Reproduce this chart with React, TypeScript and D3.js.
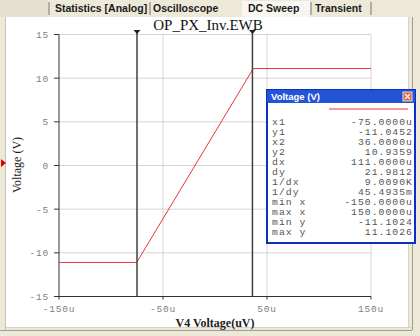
import React from "react";
import * as d3 from "d3";

const tabs = ["Statistics [Analog]", "Oscilloscope", "DC Sweep", "Transient"];
const tabX = [55, 153, 248, 315];
const activeTab = 2;
const chartTitle = "OP_PX_Inv.EWB";
const xTitle = "V4 Voltage(uV)";
const yTitle = "Voltage (V)";
const xTicks = [-150, -50, 50, 150];
const xTickLabels = ["-150u", "-50u", "50u", "150u"];
const yTicks = [-15, -10, -5, 0, 5, 10, 15];
const sweepX = [-150, -75.3, 36.8, 150];
const sweepY = [-11.1024, -11.1024, 11.1026, 11.1026];
const cursorX = [-75, 36];
const legendTitle = "Voltage (V)";
const legendLabels = ["x1", "y1", "x2", "y2", "dx", "dy", "1/dx", "1/dy", "min x", "max x", "min y", "max y"];
const legendValues = ["-75.0000u", "-11.0452", "36.0000u", "10.9359", "111.0000u", "21.9812", "9.0090K", "45.4935m", "-150.0000u", "150.0000u", "-11.1024", "11.1026"];

export default function App() {
  const W = 420, H = 336;
  const x = d3.scaleLinear().domain([-150, 150]).range([59, 371]);
  const y = d3.scaleLinear().domain([-15, 15]).range([296.5, 34.5]);
  const pts: [number, number][] = sweepX.map((v, i) => [v, sweepY[i]]);
  const line = d3.line<[number, number]>().x(d => x(d[0])).y(d => y(d[1]));
  const mono = "'Liberation Mono', 'DejaVu Sans Mono', monospace";
  const serif = "'Liberation Serif', 'DejaVu Serif', serif";
  const sans = "'Liberation Sans', 'DejaVu Sans', sans-serif";
  const lgX = 267, lgY = 90, lgW = 148, lgH = 153;
  return (
    <svg width={W} height={H} style={{ position: "absolute", left: 0, top: 0, display: "block" }}>
      {/* window background */}
      <rect x={0} y={0} width={W} height={H} fill="#ECE9D8" />
      <rect x={0} y={0} width={48} height={17} fill="#E4E1D0" />
      {/* active tab */}
      <rect x={242} y={1} width={68} height={17} fill="#F7F6F0" />
      {tabs.map((t, i) => (
        <text key={t} x={tabX[i]} y={12} fontFamily={sans} fontWeight="bold" fontSize={10.5} fill="#1a1a1a">{t}</text>
      ))}
      {[49, 150, 311, 371].map((sx, i) => (
        <line key={i} x1={sx} x2={sx} y1={2} y2={15} stroke="#777" strokeWidth={1} />
      ))}
      {/* panel */}
      <rect x={6} y={17} width={402} height={310} fill="#fff" />
      <line x1={408.5} x2={408.5} y1={17} y2={327} stroke="#d6d3c4" />
      <line x1={412.5} x2={412.5} y1={17} y2={330} stroke="#a09e94" />
      <line x1={6} x2={412} y1={327.5} y2={327.5} stroke="#d6d3c4" />
      <line x1={0} x2={412} y1={330.5} y2={330.5} stroke="#a09e94" />
      <line x1={5.5} x2={5.5} y1={17} y2={330} stroke="#c8c5b6" />
      <path d="M1,159 L6,163 L1,167 Z" fill="#e00000" />
      {/* grid */}
      {yTicks.filter(v => v !== -15).map(v => (
        <line key={"gy" + v} x1={x(-150)} x2={x(150)} y1={y(v)} y2={y(v)} stroke="#d4d4d4" />
      ))}
      {xTicks.filter(v => v !== -150).map(v => (
        <line key={"gx" + v} x1={x(v)} x2={x(v)} y1={y(15)} y2={y(-15)} stroke="#d4d4d4" />
      ))}
      {/* axes */}
      <line x1={x(-150)} x2={x(-150)} y1={y(15)} y2={y(-15)} stroke="#333" />
      <line x1={x(-150)} x2={x(150)} y1={y(-15)} y2={y(-15)} stroke="#333" />
      {yTicks.map(v => (
        <g key={"ty" + v}>
          <line x1={x(-150) - 5} x2={x(-150)} y1={y(v)} y2={y(v)} stroke="#333" />
          <text x={x(-150) - 10} y={y(v) + 3.5} textAnchor="end" fontFamily={mono} fontSize={9.5} letterSpacing={0.8} fill="#808080">{v}</text>
        </g>
      ))}
      {xTicks.map((v, i) => (
        <g key={"tx" + v}>
          <line x1={x(v)} x2={x(v)} y1={y(-15)} y2={y(-15) + 3} stroke="#333" />
          <text x={x(v)} y={y(-15) + 15} textAnchor="middle" fontFamily={mono} fontSize={9.5} letterSpacing={0.8} fill="#808080">{xTickLabels[i]}</text>
        </g>
      ))}
      {/* sweep line */}
      <path d={line(pts) || ""} fill="none" stroke="#e8353a" strokeWidth={1} />
      {/* cursors */}
      {cursorX.map(c => (
        <g key={"c" + c}>
          <line x1={x(c)} x2={x(c)} y1={31} y2={y(-15)} stroke="#404040" strokeWidth={1.5} />
          <path d={`M${x(c) - 3.5},30 L${x(c) + 3.5},30 L${x(c)},34 Z`} fill="#222" />
        </g>
      ))}
      {/* titles */}
      <text x={208} y={29.5} textAnchor="middle" fontFamily={serif} fontSize={15} fill="#111">{chartTitle}</text>
      <text x={215} y={327} textAnchor="middle" fontFamily={serif} fontSize={12} fontWeight="bold" fill="#222">{xTitle}</text>
      <text transform="translate(21,165) rotate(-90)" textAnchor="middle" fontFamily={serif} fontSize={12} fill="#222">{yTitle}</text>
      {/* legend */}
      <rect x={lgX} y={lgY} width={lgW} height={lgH} fill="#fff" stroke="#0a2fc4" strokeWidth={2} />
      <rect x={lgX} y={lgY} width={lgW} height={13} fill="#2454d6" />
      <text x={lgX + 4} y={lgY + 10} fontFamily={sans} fontWeight="bold" fontSize={9.5} fill="#fff">{legendTitle}</text>
      <rect x={lgX + lgW - 12} y={lgY + 2} width={9} height={9} fill="#e0603a" stroke="#fff" strokeWidth={0.8} />
      <path d={`M${lgX + lgW - 10},${lgY + 4} L${lgX + lgW - 5},${lgY + 9} M${lgX + lgW - 5},${lgY + 4} L${lgX + lgW - 10},${lgY + 9}`} stroke="#fff" strokeWidth={1.2} />
      <line x1={329} x2={408} y1={109} y2={109} stroke="#e8353a" strokeWidth={1} />
      {legendLabels.map((l, i) => (
        <g key={l}>
          <text x={272} y={124.5 + i * 10} fontFamily={mono} fontSize={9.8} letterSpacing={1} fill="#555">{l}</text>
          <text x={413} y={124.5 + i * 10} textAnchor="end" fontFamily={mono} fontSize={9.8} letterSpacing={1} fill="#555">{legendValues[i]}</text>
        </g>
      ))}
    </svg>
  );
}
